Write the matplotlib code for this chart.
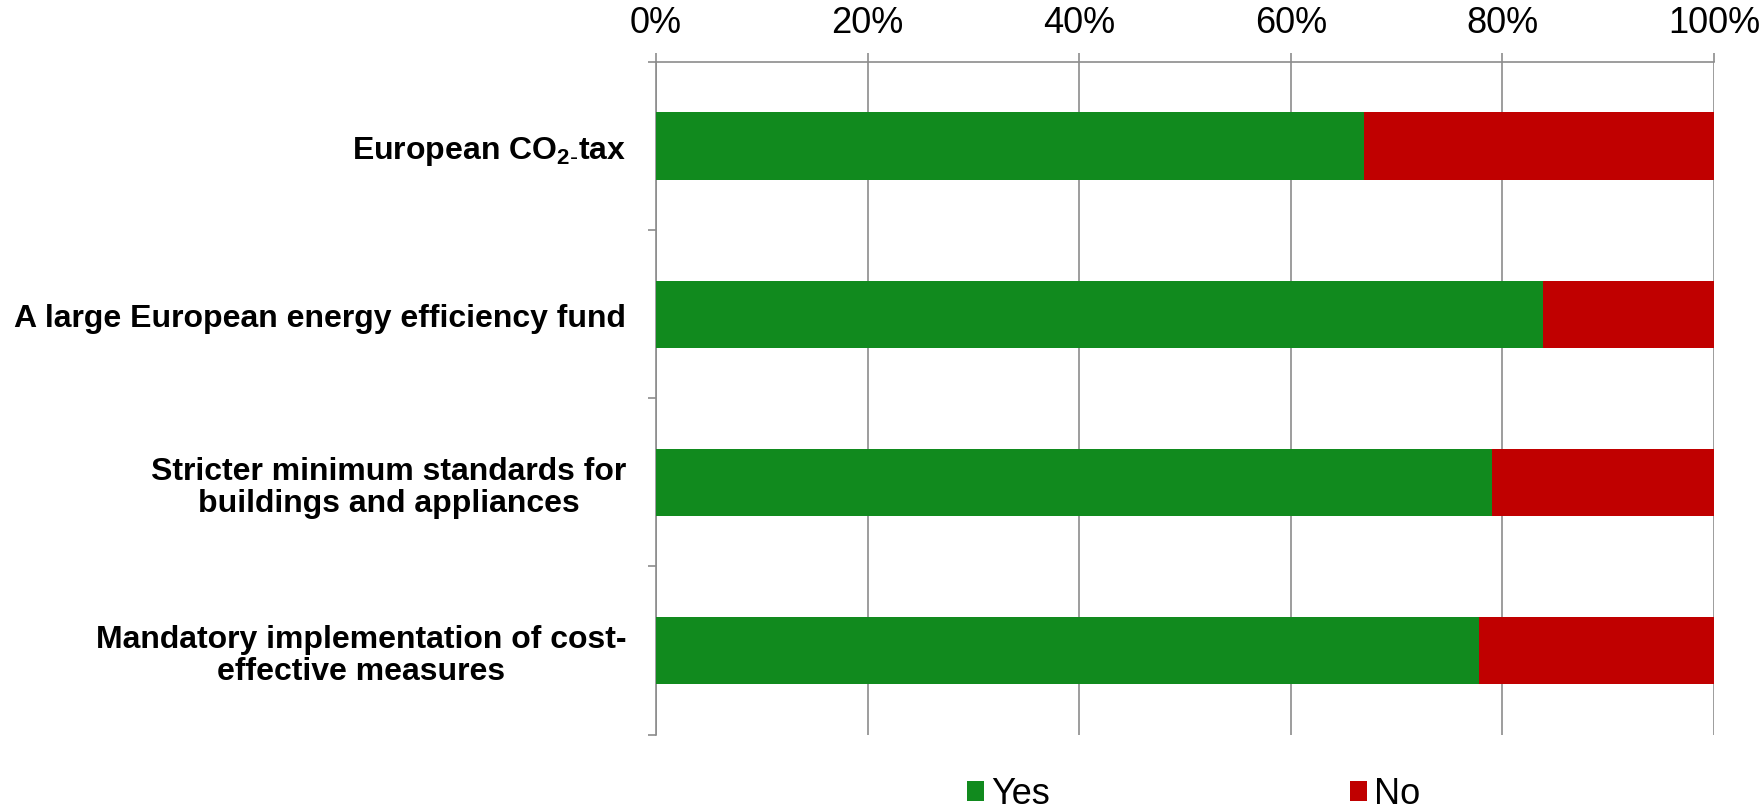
import matplotlib
matplotlib.use("Agg")
import matplotlib.pyplot as plt
import numpy as np

plt.rcParams['font.family'] = ['Liberation Sans', 'DejaVu Sans']
plt.rcParams['mathtext.default'] = 'regular'

# data
categories = ["European CO$_{2\\text{-}}$tax ",
              "A large European energy efficiency fund",
              "Stricter minimum standards for\nbuildings and appliances",
              "Mandatory implementation of cost-\neffective measures"]
yes_share = [0.669, 0.838, 0.790, 0.778]
no_share = [1 - v for v in yes_share]
xticks = [0, 0.2, 0.4, 0.6, 0.8, 1.0]
xtick_labels = ["0%", "20%", "40%", "60%", "80%", "100%"]

green = "#118A1E"
red = "#C00000"
grey = "#8C8C8C"

fig = plt.figure(figsize=(17.6, 8.12), dpi=100)
ax = fig.add_axes([656/1760, 1 - 735.5/812, (1714-656)/1760, (735.5-63)/812])

y = np.arange(len(categories))
ax.barh(y, yes_share, height=0.4, color=green, label="Yes", zorder=3)
ax.barh(y, no_share, left=yes_share, height=0.4, color=red, label="No", zorder=3)

ax.set_xlim(0, 1)
ax.set_ylim(len(categories) - 0.5, -0.5)

# x axis on top
ax.xaxis.tick_top()
ax.set_xticks(xticks, xtick_labels)
ax.tick_params(axis='x', which='major', length=6.5, width=1.2, color=grey,
               labelsize=26, pad=9)
ax.grid(axis='x', color=grey, linewidth=1.2, zorder=0)
ax.set_axisbelow(True)

# y axis: labels at categories, ticks at category boundaries
ax.set_yticks(y, categories)
ax.set_yticks(np.arange(len(categories) + 1) - 0.5, minor=True)
ax.tick_params(axis='y', which='major', length=0, pad=21.5, labelsize=23)
ax.tick_params(axis='y', which='minor', length=5.5, width=1.2, color=grey)
for lab in ax.get_yticklabels():
    lab.set_fontweight('bold')
    lab.set_multialignment('center')
    lab.set_linespacing(1.1)

for side in ['right', 'bottom']:
    ax.spines[side].set_visible(False)
for side in ['top', 'left']:
    ax.spines[side].set_color(grey)
    ax.spines[side].set_linewidth(1.2)

fig.legend(loc='center', bbox_to_anchor=(1194/1760, 17/812), ncol=2,
           frameon=False, fontsize=26, handlelength=0.47, handleheight=0.47,
           handletextpad=0.2, columnspacing=8.3, borderpad=0.2)

plt.savefig('out.png', dpi=100)
